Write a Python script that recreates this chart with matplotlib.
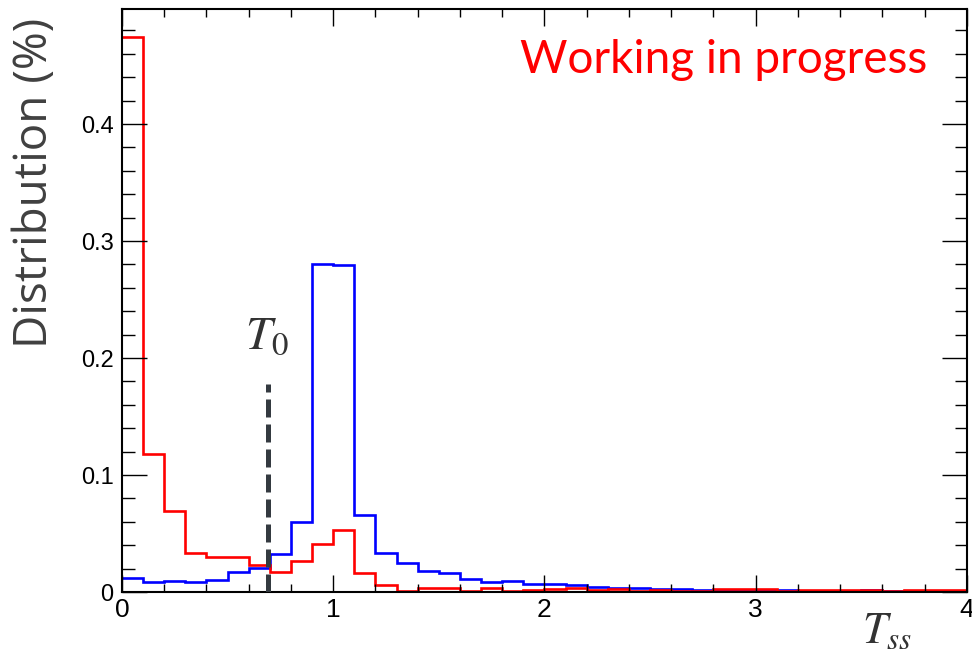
import numpy as np
import matplotlib
matplotlib.use("Agg")
import matplotlib.pyplot as plt
from matplotlib.ticker import MultipleLocator, FuncFormatter

# bins of width 0.1 from 0 to 4
bin_edges = np.round(np.arange(0, 4.0001, 0.1), 2)

red_values = [0.4746, 0.1177, 0.0692, 0.0336, 0.0302, 0.0302, 0.0234, 0.0168, 0.0268, 0.0410,
              0.0530, 0.0165, 0.0060, 0.0010, 0.0037, 0.0037, 0.0010, 0.0037, 0.0010, 0.0020,
              0.0023, 0.0037, 0.0017, 0.0025, 0.0010, 0.0014, 0.0006, 0.0006, 0.0023, 0.0023,
              0.0023, 0.0006, 0.0014, 0.0014, 0.0020, 0.0020, 0.0006, 0.0014, 0.0014, 0.0014]

blue_values = [0.0117, 0.0083, 0.0094, 0.0083, 0.0100, 0.0168, 0.0202, 0.0322, 0.0600, 0.2803,
               0.2792, 0.0658, 0.0336, 0.0250, 0.0180, 0.0160, 0.0111, 0.0085, 0.0094, 0.0068,
               0.0066, 0.0057, 0.0043, 0.0037, 0.0037, 0.0023, 0.0028, 0.0014, 0.0017, 0.0017,
               0.0017, 0.0017, 0.0006, 0.0008, 0.0011, 0.0014, 0.0008, 0.0003, 0.0003, 0.0003]

t0_position = 0.69
t0_height = 0.178

fig = plt.figure(figsize=(9.72, 6.64), dpi=100)
ax = fig.add_axes([0.1255, 0.1084, 0.8693, 0.878])

ax.stairs(blue_values, bin_edges, color="#0000ff", linewidth=1.9, baseline=None)
ax.stairs(red_values, bin_edges, color="#ff0000", linewidth=1.9, baseline=None)

ax.vlines(t0_position, 0, t0_height, color="#343a40", linewidth=3.6,
          linestyles=(0, (3.6, 1.4)), zorder=4)

ax.set_xlim(0, 4)
ax.set_ylim(0, 1.05 * max(red_values))

ax.xaxis.set_major_locator(MultipleLocator(1))
ax.xaxis.set_minor_locator(MultipleLocator(0.2))
ax.yaxis.set_major_locator(MultipleLocator(0.1))
ax.yaxis.set_minor_locator(MultipleLocator(0.02))
ax.yaxis.set_major_formatter(FuncFormatter(lambda v, p: "0" if abs(v) < 1e-9 else f"{v:.1f}"))
ax.xaxis.set_major_formatter(FuncFormatter(lambda v, p: f"{v:.0f}"))

ax.tick_params(axis="both", which="both", direction="in", top=True, right=True, width=1.0)
ax.tick_params(axis="x", which="major", length=12, pad=4)
ax.tick_params(axis="x", which="minor", length=6)
ax.tick_params(axis="y", which="major", length=18, pad=6)
ax.tick_params(axis="y", which="minor", length=9)
for lab in ax.get_xticklabels():
    lab.set_fontfamily("Liberation Sans")
    lab.set_fontsize(19)
for lab in ax.get_yticklabels():
    lab.set_fontfamily("Liberation Sans")
    lab.set_fontsize(17)

for sp in ax.spines.values():
    sp.set_linewidth(1.5)

plt.rcParams["mathtext.fontset"] = "stix"

fig.text(35 / 972, 1 - 183 / 664, "Distribution (%)", rotation=90, ha="center", va="center",
         fontsize=33, color="#404040", family="Open Sans")
fig.text(927 / 972, 1 - 73 / 664, "Working in progress", ha="right", va="baseline",
         fontsize=33, color="#ff0000", family="Lato")
fig.text(245 / 972, 1 - 349 / 664, r"$T_0$", ha="left", va="baseline",
         fontsize=34, color="#333333")
fig.text(862 / 972, 1 - 643 / 664, r"$T_{ss}$", ha="left", va="baseline",
         fontsize=32, color="#333333")

fig.savefig("out.png", dpi=100)
